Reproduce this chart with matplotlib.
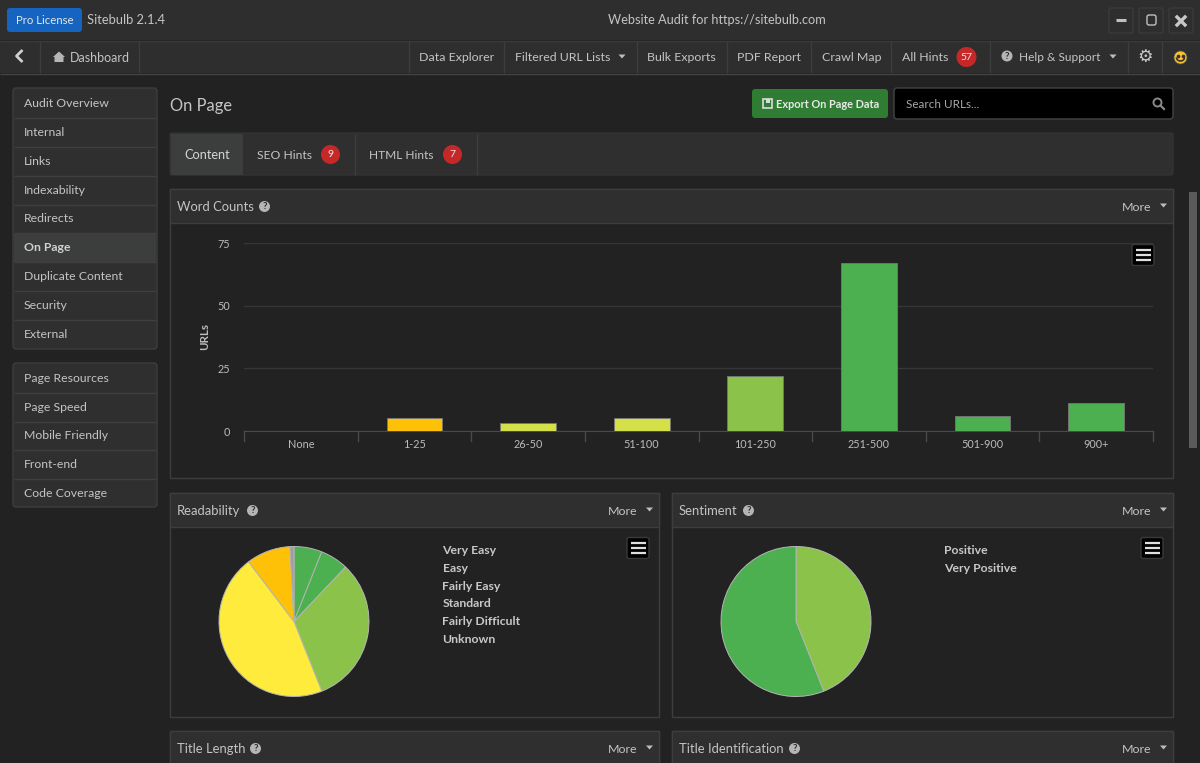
import matplotlib
matplotlib.use("Agg")
from matplotlib import pyplot as plt
from matplotlib.patches import Rectangle, FancyBboxPatch, Circle, Polygon, Arc

plt.rcParams['font.family'] = ['Lato', 'DejaVu Sans']

W, H = 1200, 763

# chart data
word_bins = ['None', '1-25', '26-50', '51-100', '101-250', '251-500', '501-900', '900+']
word_urls = [0, 5, 3, 5, 22, 67, 6, 11]
word_colors = ['#4caf50', '#ffc107', '#d4e047', '#d4e047', '#8bc34a', '#4caf50', '#4caf50', '#4caf50']
word_ticks = [0, 25, 50, 75]

read_labels = ['Very Easy', 'Easy', 'Fairly Easy', 'Standard', 'Fairly Difficult', 'Unknown']
read_urls = [7, 7, 37, 53, 11, 1]
read_colors = ['#4caf50', '#4caf50', '#8bc34a', '#ffeb3b', '#ffc107', '#9e9e9e']

sent_labels = ['Positive', 'Very Positive']
sent_urls = [51, 65]
sent_colors = ['#8bc34a', '#4caf50']

# sidebar and nav text
side_top = ['Audit Overview', 'Internal', 'Links', 'Indexability', 'Redirects', 'On Page',
            'Duplicate Content', 'Security', 'External']
side_top_y = [103, 132, 161, 190, 218, 247, 276, 305, 334]
side_bottom = ['Page Resources', 'Page Speed', 'Mobile Friendly', 'Front-end', 'Code Coverage']
side_bottom_y = [378, 407, 435, 464, 493]
nav_items = ['Data Explorer', 'Filtered URL Lists', 'Bulk Exports', 'PDF Report', 'Crawl Map', 'All Hints']
nav_x = [419, 515, 647, 737, 822, 902]
nav_seps = [40, 139, 409, 504, 637, 727, 811, 891, 990, 1128, 1162]

BG = '#222222'
BAR = '#2f2f2f'
LINE = '#3d3d3d'
TEXT = '#c4c4c4'

fig = plt.figure(figsize=(W / 100, H / 100), dpi=100, facecolor=BG)
ui = fig.add_axes([0, 0, 1, 1])
ui.set_xlim(0, W)
ui.set_ylim(H, 0)
ui.axis('off')


def txt(x, y, s, size=8.8, color=TEXT, ha='left', weight='normal'):
    ui.text(x, y + 0.7, s, fontsize=size, color=color, ha=ha, va='center', fontweight=weight)


def box(x0, y0, x1, y1, fc, ec='none', lw=1.0):
    ui.add_patch(Rectangle((x0, y0), x1 - x0, y1 - y0, fc=fc, ec=ec, lw=lw))


def rbox(x0, y0, x1, y1, fc, ec='none', r=3):
    ui.add_patch(FancyBboxPatch((x0 + r, y0 + r), x1 - x0 - 2 * r, y1 - y0 - 2 * r,
                                boxstyle='round,pad=%d,rounding_size=%d' % (r, r),
                                fc=fc, ec=ec, lw=1))


def vline(x, y0, y1, c=LINE):
    ui.plot([x, x], [y0, y1], color=c, lw=1, solid_capstyle='butt')


def hline(y, x0, x1, c=LINE):
    ui.plot([x0, x1], [y, y], color=c, lw=1, solid_capstyle='butt')


def caret(x, y, c='#bdbdbd'):
    ui.add_patch(Polygon([(x - 3.5, y - 2), (x + 3.5, y - 2), (x, y + 2)], fc=c, ec='none'))


def badge(x, y, s, r=9.5):
    ui.add_patch(Circle((x, y), r, fc='#c62828', ec='none'))
    txt(x, y - 0.5, s, size=7.5, color='#e8e8e8', ha='center')


def question(x, y):
    ui.add_patch(Circle((x, y), 5.5, fc='#b5b5b5', ec='none'))
    txt(x, y - 0.5, '?', size=7, color=BAR, ha='center', weight='bold')


def burger(x, y):
    rbox(x - 11, y - 10.5, x + 11, y + 10.5, '#000000', '#3a3a3a', r=2)
    for dy in (-5, 0, 5):
        ui.plot([x - 7.5, x + 7.5], [y + dy, y + dy], color='#e0e0e0', lw=1.6, solid_capstyle='butt')


def panel(x0, y0, x1, y1, title, qx):
    box(x0, y0, x1, y1, BG, LINE)
    box(x0, y0, x1, y0 + 34, BAR, LINE)
    txt(x0 + 7, y0 + 17.5, title, size=9.4)
    question(qx, y0 + 17.5)
    txt(x1 - 22, y0 + 17.5, 'More', ha='right', size=8.9)
    caret(x1 - 9.5, y0 + 16.5)


# title bar
box(0, 0, W, 40, '#2e2e2e')
hline(40.5, 0, W, '#3a3a3a')
rbox(7, 8, 82, 32, '#1565c0', r=3)
txt(44.5, 19.5, 'Pro License', size=8.2, color='#e6e6e6', ha='center')
txt(87, 19.5, 'Sitebulb 2.1.4', size=9.3)
txt(716.5, 19.5, 'Website Audit for https://sitebulb.com', size=9.2, ha='center')
for bx in (1121, 1151, 1181):
    rbox(bx - 12, 8, bx + 12, 33, '#2e2e2e', '#3a3a3a', r=2)
ui.plot([1116, 1126], [20, 20], color='#c0c0c0', lw=2.2, solid_capstyle='butt')
rbox(1147, 15, 1156, 25, 'none', '#c0c0c0', r=2)
ui.plot([1177, 1185], [17, 25], color='#c8c8c8', lw=2.4)
ui.plot([1177, 1185], [25, 17], color='#c8c8c8', lw=2.4)

# nav bar
box(0, 41, W, 73, '#2e2e2e')
hline(73.5, 0, W, '#444444')
for sx in nav_seps:
    vline(sx, 41, 73)
ui.plot([21.5, 16.5, 21.5], [51, 56, 61], color='#cfcfcf', lw=2)
ui.add_patch(Polygon([(53, 57), (59, 51.5), (65, 57), (63.5, 57), (63.5, 62), (54.5, 62), (54.5, 57)],
                     fc='#b5b5b5', ec='none'))
txt(70, 57, 'Dashboard', size=9.0)
for nx, ns in zip(nav_x, nav_items):
    txt(nx, 57, ns, size=8.9)
caret(622, 56.5)
badge(966.5, 57, '57', r=10)
question(1007, 56)
txt(1019, 57, 'Help & Support', size=8.6)
caret(1113, 56.5)
ui.text(1145, 56.5, '\u2699', fontsize=12.5, color='#c8c8c8', ha='center', va='center', family='DejaVu Sans')
ui.add_patch(Circle((1180.5, 57.5), 6.5, fc='#fbc02d', ec='#555555', lw=0.5))
ui.add_patch(Arc((1180.5, 57.5), 8, 7, theta1=0, theta2=180, color='#333333', lw=1.2))
ui.plot([1178, 1183], [55.5, 55.5], ls='none', marker='o', ms=1.6, color='#333333')

# sidebar
rbox(13, 88, 157, 349, BAR, LINE)
box(14, 234, 156, 262, '#3c3e3e')
for ss, sy in zip(side_top, side_top_y):
    txt(24, sy, ss, size=8.8, color='#d0d0d0' if ss == 'On Page' else TEXT,
        weight='bold' if ss == 'On Page' else 'normal')
for sy in side_top_y[:-1]:
    hline(sy + 14.5, 14, 156, '#3f3f3f')
rbox(13, 363, 157, 507, BAR, LINE)
for ss, sy in zip(side_bottom, side_bottom_y):
    txt(24, sy, ss, size=8.8)
for sy in side_bottom_y[:-1]:
    hline(sy + 14.5, 14, 156, '#3f3f3f')

# page heading and search row
txt(170, 105, 'On Page', size=11.9)
rbox(752, 89, 888, 118, '#2e7d32', r=3)
box(763, 99, 772, 108, 'none', '#dcdcdc', 1.2)
box(765.5, 99, 769.5, 102.5, '#dcdcdc')
txt(776, 104, 'Export On Page Data', size=7.9, color='#e8e8e8', weight='bold')
rbox(894, 88, 1173, 119, '#000000', '#444444', r=3)
txt(906, 103.5, 'Search URLs...', size=8.4, color='#a8a8a8')
ui.add_patch(Circle((1157.5, 102.5), 4, fc='none', ec='#888888', lw=1.4))
ui.plot([1160.5, 1164], [105.5, 109], color='#888888', lw=1.6)

# tabs
rbox(170, 133, 1173, 175, BAR, '#333333', r=2)
box(171, 134, 243, 175, '#3c3e3e')
vline(354.5, 134, 175)
vline(476.5, 134, 175)
txt(207.5, 154.5, 'Content', size=9.2, color='#d4d4d4', ha='center')
txt(257, 154.5, 'SEO Hints', size=8.7)
badge(330.5, 154.5, '9')
txt(369, 154.5, 'HTML Hints', size=8.6)
badge(452.5, 154.5, '7')

# panels
panel(170, 189, 1173, 478, 'Word Counts', 264.5)
panel(170, 493, 659, 717, 'Readability', 252.5)
panel(672, 493, 1173, 717, 'Sentiment', 748.5)
panel(170, 731, 659, 790, 'Title Length', 255.5)
panel(672, 731, 1173, 790, 'Title Identification', 794.5)
burger(1143, 255)
burger(638, 548)
burger(1152, 548)

# scrollbar
box(1189, 192, 1197, 448, '#5a5a5a')

# bar chart
ax = fig.add_axes([244 / W, (H - 431) / H, 909 / W, 188 / H], facecolor='none')
ax.bar(range(len(word_bins)), word_urls, width=0.49, color=word_colors, edgecolor='#777777', linewidth=0.6, zorder=3)
ax.set_xlim(-0.5, len(word_bins) - 0.5)
ax.set_ylim(0, 75)
ax.set_yticks(word_ticks)
ax.set_yticklabels([str(v) for v in word_ticks], fontsize=7.8, color='#bbbbbb')
ax.set_xticks(range(len(word_bins)))
ax.set_xticklabels(word_bins, fontsize=7.8, color='#bbbbbb')
ax.tick_params(axis='x', length=0, pad=6)
ax.tick_params(axis='y', length=0, pad=10)
for edge in range(len(word_bins) + 1):
    ax.plot([edge - 0.5, edge - 0.5], [0, -4], color='#4a4a4a', lw=1, clip_on=False)
ax.grid(axis='y', color='#363636', lw=1, zorder=0)
ax.set_axisbelow(True)
for side in ('top', 'right', 'left'):
    ax.spines[side].set_visible(False)
ax.spines['bottom'].set_color('#4a4a4a')
ui.text(205, 337, 'URLs', fontsize=8.3, color='#bdbdbd', rotation=90, ha='center', va='center', fontweight='bold')


def draw_pie(cx, cy, values, colors):
    a = fig.add_axes([(cx - 75) / W, (H - cy - 75) / H, 150 / W, 150 / H], facecolor='none')
    wedges, _ = a.pie(values, colors=colors, startangle=90, counterclock=False, radius=1,
                      wedgeprops={'edgecolor': '#b5b5b5', 'linewidth': 0.7})
    for w in wedges:
        w.set_clip_on(False)
    a.set_xlim(-1, 1)
    a.set_ylim(-1, 1)


draw_pie(294, 621.5, read_urls, read_colors)
draw_pie(796, 621.5, sent_urls, sent_colors)

for i, lab in enumerate(read_labels):
    txt(442.5, 549.5 + i * 17.9, lab, size=8.8, color='#c8c8c8', weight='bold')
for i, lab in enumerate(sent_labels):
    txt(944, 549.5 + i * 18, lab, size=8.8, color='#c8c8c8', weight='bold')

fig.savefig('out.png', dpi=100, facecolor=fig.get_facecolor())
